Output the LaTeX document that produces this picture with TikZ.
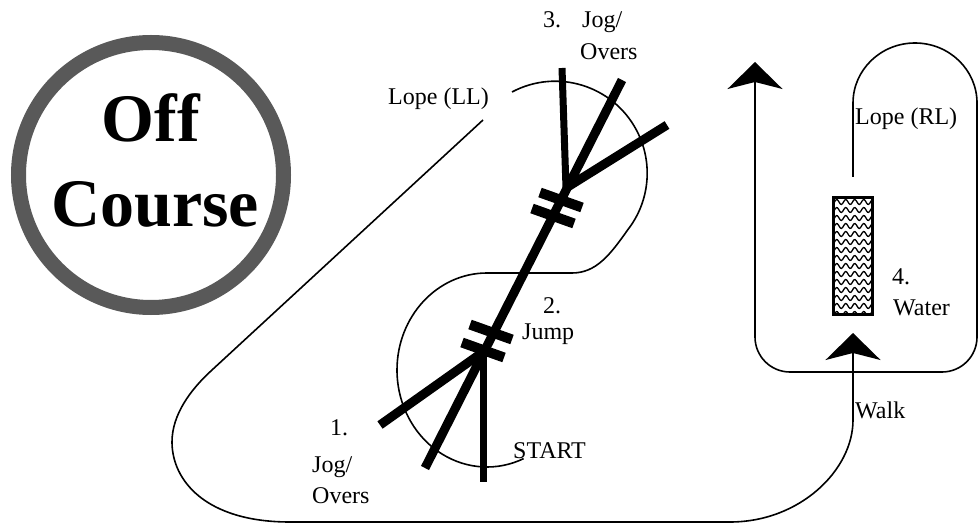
\documentclass[tikz,border=0pt]{standalone}
\usepackage{fontspec}
\setmainfont{Liberation Serif}
\usetikzlibrary{arrows.meta}
\tikzset{
  course/.style={line width=1.6pt,black},
  tipped/.style={course,-{Stealth[length=27pt,width=55pt,inset=7pt]}},
  pole/.style={line width=9pt,black},
  rail/.style={line width=10pt,black},
  waves/.style={line width=1.3pt,black},
  lbl/.style={font=\fontsize{24}{26}\selectfont,inner sep=0pt,anchor=base west},
  badge/.style={circle,draw=black!65,line width=15pt,minimum size=265pt,inner sep=0pt},
  badgetext/.style={font=\fontsize{68}{70}\selectfont\bfseries,inner sep=0pt,anchor=base},
}

\begin{document}
\begin{tikzpicture}[x=1pt,y=-1pt]
  \useasboundingbox (0,0) rectangle (979,526);
  % off course badge
  \node[badge]     (ring) at (151,175) {};
  \node[badgetext] (off)  at (151,142) {Off};
  \node[badgetext] (crs)  at (155,227) {Course};
  % key points of the route
  \coordinate (llend)   at (483,120);
  \coordinate (bend)    at (212,370);
  \coordinate (walktip) at (853,333);
  \coordinate (s3)      at (512,92);
  \coordinate (mid)     at (572,273);
  \coordinate (lotop)   at (487,273);
  \coordinate (rlstart) at (853,177);
  \coordinate (rltip)   at (755,62);
  % lope (LL) line round the bottom, walk to the water
  \draw[tipped] (llend) -- (bend) .. controls (190,390) and (172,415) .. (172,442)
        .. controls (172,480) and (205,522) .. (290,522) -- (730,522)
        .. controls (800,522) and (853,470) .. (853,420) -- (walktip);
  % figure eight round the jumps
  \draw[course] (s3) arc[start angle=118,end angle=-38,radius=92pt]
        .. controls (610,255) and (596,273) .. (mid) -- (lotop)
        arc[start angle=90,end angle=294,x radius=90pt,y radius=97pt];
  % lope (RL) loop
  \draw[tipped] (rlstart) -- (853,103)
        arc[start angle=180,end angle=0,x radius=62pt,y radius=60pt]
        -- (977,337) arc[start angle=0,end angle=-90,radius=35pt]
        -- (790,372) arc[start angle=270,end angle=180,radius=35pt] -- (rltip);
  % jump poles
  \coordinate (jlo) at (425,468);
  \coordinate (jhi) at (622,80);
  \coordinate (lx)  at (483,352);
  \coordinate (ux)  at (566,188);
  \coordinate (lv)  at (483,482);
  \coordinate (lw)  at (380,425);
  \coordinate (uv)  at (562,68);
  \coordinate (ue)  at (667,125);
  \draw[pole] (jlo) -- (jhi);
  \draw[pole,line width=7pt] (lx) -- (lv);
  \draw[pole] (lw) -- (lx);
  \draw[pole,line width=7pt] (uv) -- (ux);
  \draw[pole] (ux) -- (ue);
  % crossbars
  \foreach \cx/\cy in {491/332,483/350,561/200,553/216}
    \draw[rail] (\cx-21,\cy-7.5) -- (\cx+21,\cy+7.5);
  % water
  \begin{scope}
    \clip (833.5,197.5) rectangle (872.5,314.5);
    \foreach \wy in {202,210,...,314}
      \draw[waves] plot[domain=830:876,samples=45] (\x,{\wy+2.5*sin(40*(\x-830))});
  \end{scope}
  \node[draw,line width=3.5pt,minimum width=39pt,minimum height=117pt,inner sep=0pt] (h2o) at (853,256) {};
  % labels
  \node[lbl] (lopell) at (388,105) {Lope (LL)};
  \node[lbl] (n3)     at (543,28)  {3.};
  \node[lbl] (jog3)   at (582,28)  {Jog/};
  \node[lbl] (overs3) at (580,60)  {Overs};
  \node[lbl] (loperl) at (855,125) {Lope (RL)};
  \node[lbl] (n4)     at (892,285) {4.};
  \node[lbl] (watert) at (893,316) {Water};
  \node[lbl] (walk)   at (855,418) {Walk};
  \node[lbl] (n2)     at (543,314) {2.};
  \node[lbl] (jump)   at (522,339) {Jump};
  \node[lbl] (start)  at (513,458) {START};
  \node[lbl] (n1)     at (330,435) {1.};
  \node[lbl] (jog1)   at (312,472) {Jog/};
  \node[lbl] (overs1) at (312,503) {Overs};
\end{tikzpicture}
\end{document}
